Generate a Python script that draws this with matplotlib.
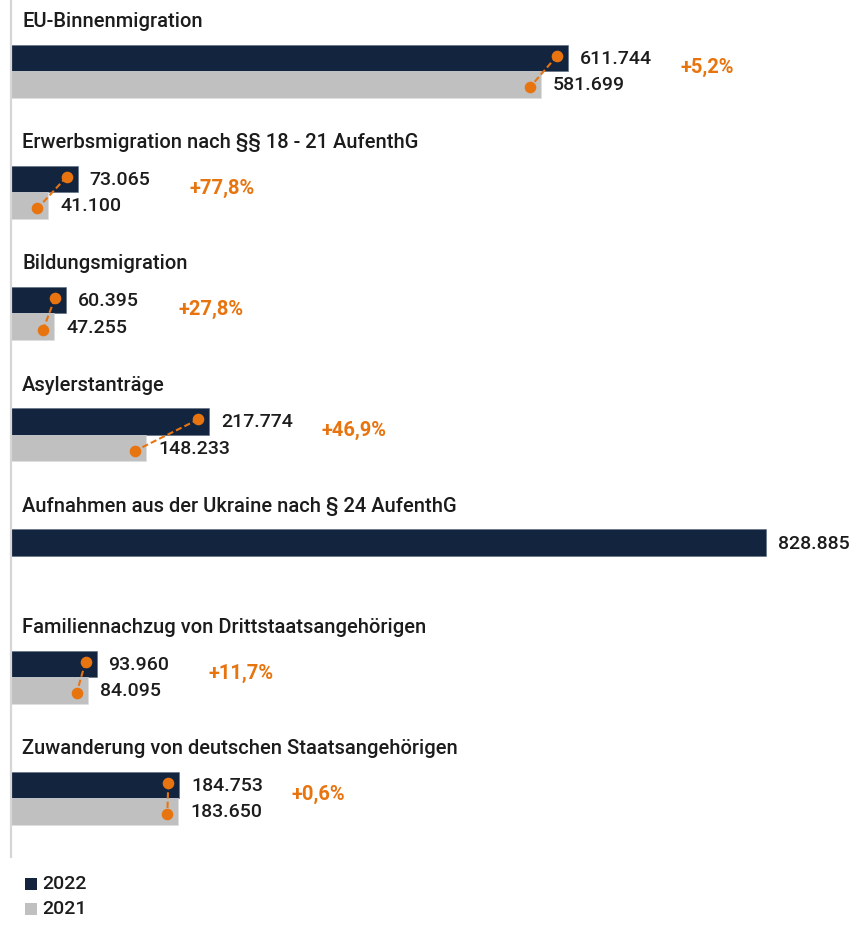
import matplotlib
matplotlib.use("Agg")
import matplotlib.pyplot as plt

categories = [
    "EU-Binnenmigration",
    "Erwerbsmigration nach §§ 18 - 21 AufenthG",
    "Bildungsmigration",
    "Asylerstanträge",
    "Aufnahmen aus der Ukraine nach § 24 AufenthG",
    "Familiennachzug von Drittstaatsangehörigen",
    "Zuwanderung von deutschen Staatsangehörigen",
]
values_2022 = [611744, 73065, 60395, 217774, 828885, 93960, 184753]
values_2021 = [581699, 41100, 47255, 148233, 0, 84095, 183650]
pct_labels = ["+5,2%", "+77,8%", "+27,8%", "+46,9%", "", "+11,7%", "+0,6%"]
series_names = ["2022", "2021"]

def fmt(v):
    return f"{v:,}".replace(",", ".")

W, H = 851, 925
fig = plt.figure(figsize=(W / 100, H / 100), dpi=100)
ax = fig.add_axes([0, 0, 1, 1])

DARK = "#13243f"
GREY = "#c0c0c0"
ORANGE = "#e8740f"
TXT = "#1c1c1c"
plt.rcParams["font.family"] = ["Roboto", "DejaVu Sans"]

x0 = 11
scale = 755 / 828885
ax.set_xlim(-x0 / scale, (W - x0) / scale)
ax.set_ylim(H, 0)
ax.axis("off")

px = 0.72  # points per pixel
bar_h = 26.5
step = 121.2
first_boundary = 71

# axis line
ax.plot([0, 0], [0, 858], color="#d6d6d6", lw=1.6, solid_capstyle="butt")

fs = 14.5
fs_val = 14
fw = "medium"
for i, cat in enumerate(categories):
    b = first_boundary + step * i
    v22, v21 = values_2022[i], values_2021[i]
    c22 = b - bar_h / 2
    c21 = b + bar_h / 2
    ax.barh(c22, v22, height=bar_h, left=0, color=DARK, edgecolor="#5a6a80", linewidth=0.4)
    if v21 > 0:
        ax.barh(c21, v21, height=bar_h, left=0, color=GREY, edgecolor="#dedede", linewidth=0.4)
    ax.annotate(cat, (0, b - bar_h), xytext=(11 * px, 23 * px), textcoords="offset points",
                ha="left", va="center", fontsize=fs, color=TXT, fontweight=fw)
    ax.annotate(fmt(v22), (v22, c22), xytext=(12 * px, -1 * px), textcoords="offset points",
                ha="left", va="center", fontsize=fs_val, color=TXT, fontweight=fw)
    if v21 > 0:
        ax.annotate(fmt(v21), (v21, c21), xytext=(12 * px, -1 * px), textcoords="offset points",
                    ha="left", va="center", fontsize=fs_val, color=TXT, fontweight=fw)
        # connector dots
        off = 11 / scale
        xd = [v22 - off, v21 - off]
        yd = [c22 - 2, c21 + 3]
        ax.plot(xd, yd, color=ORANGE, lw=1.5, ls=(0, (3, 1.5)), zorder=3)
        ax.scatter(xd, yd, s=70, color=ORANGE, zorder=4, linewidths=0)
        ax.annotate(pct_labels[i], (max(v22, v21), b), xytext=(112 * px, 4 * px),
                    textcoords="offset points", ha="left", va="center", fontsize=fs,
                    color=ORANGE, fontweight="bold")

# legend
leg_colors = [DARK, GREY]
for j, name in enumerate(series_names):
    yc = 884 + 25 * j
    ax.scatter([20 / scale], [yc], marker="s", s=70, color=leg_colors[j], linewidths=0)
    ax.annotate(name, (20 / scale, yc), xytext=(11 * px, 0), textcoords="offset points",
                ha="left", va="center", fontsize=fs_val, color=TXT, fontweight=fw)

fig.savefig("out.png", dpi=100)
